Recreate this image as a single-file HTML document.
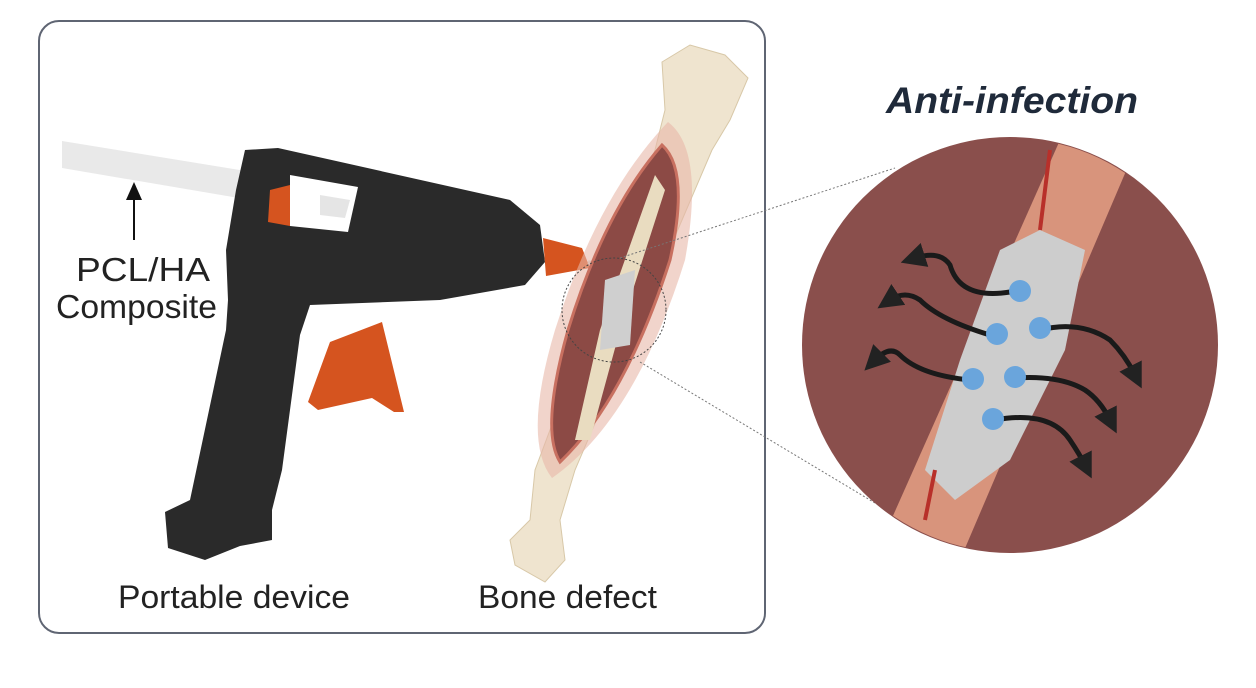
<!DOCTYPE html>
<html><head><meta charset="utf-8"><style>
html,body{margin:0;padding:0;background:#fff;}
svg{display:block;}
text{font-family:"Liberation Sans",sans-serif;}
</style></head><body>
<svg width="1256" height="688" viewBox="0 0 1256 688" xmlns="http://www.w3.org/2000/svg">
<defs>
<marker id="ah" markerWidth="10" markerHeight="10" refX="5" refY="5" orient="auto"><path d="M0,1 L9,5 L0,9 Z" fill="#111"/></marker>
<marker id="ab" markerWidth="5" markerHeight="5" refX="2" refY="2.5" orient="auto"><path d="M0,0 L5,2.5 L0,5 Z" fill="#222"/></marker>
<clipPath id="cc"><circle cx="1010" cy="345" r="207"/></clipPath>
</defs>
<rect x="39" y="21" width="726" height="612" rx="20" fill="#fff" stroke="#5f6573" stroke-width="2"/>
<polygon points="62,141 350,188 345,216 62,168" fill="#e9e9e9"/>
<polygon points="245,150 278,148 510,200 540,225 545,262 525,285 440,300 310,305 300,335 282,470 272,510 272,540 240,546 205,560 168,548 165,512 190,500 226,330 228,300 226,250 236,190" fill="#2a2a2a"/>
<polygon points="290,175 358,187 348,232 290,226" fill="#fff"/>
<polygon points="270,190 290,185 290,226 268,222" fill="#d5541f"/>
<polygon points="320,195 350,200 345,218 320,215" fill="#e5e5e5"/>
<polygon points="330,342 382,322 404,412 394,412 372,398 318,410 308,402" fill="#d5541f"/>
<polygon points="543,238 582,248 590,268 546,276" fill="#d5541f"/>
<line x1="588" y1="262" x2="615" y2="270" stroke="#ccc" stroke-width="4"/>
<line x1="134" y1="240" x2="134" y2="190" stroke="#111" stroke-width="2" marker-end="url(#ah)"/>
<text x="76" y="281" font-size="33" fill="#222" textLength="134" lengthAdjust="spacingAndGlyphs">PCL/HA</text>
<text x="56" y="318" font-size="33" fill="#222" textLength="161" lengthAdjust="spacingAndGlyphs">Composite</text>
<text x="118" y="608" font-size="32" fill="#222" textLength="232" lengthAdjust="spacingAndGlyphs">Portable device</text>
<text x="478" y="608" font-size="32" fill="#222" textLength="179" lengthAdjust="spacingAndGlyphs">Bone defect</text>
<path d="M662,62 L690,45 L725,55 L748,78 L730,120 L712,150 L575,470 L560,520 L565,560 L545,582 L515,565 L510,540 L530,520 L535,470 L655,150 L665,110 Z" fill="#efe4cf" stroke="#d8c8a8"/>
<path d="M668,122 Q705,150 685,260 Q635,420 552,478 Q522,440 555,330 Q598,195 668,122 Z" fill="#e8b8a8" opacity="0.6"/>
<path d="M662,145 Q690,170 670,260 Q625,400 560,462 Q540,430 568,330 Q605,210 662,145 Z" fill="#8c4a45" stroke="#c87060" stroke-width="3"/>
<path d="M655,175 L600,330 L575,440 L590,440 L620,330 L665,190 Z" fill="#e9dcc0"/>
<polygon points="605,280 635,270 630,345 600,350" fill="#cfcfcf"/>
<circle cx="614" cy="310" r="52" fill="none" stroke="#444" stroke-dasharray="2,2"/>
<line x1="620" y1="258" x2="895" y2="168" stroke="#777" stroke-dasharray="2,2"/>
<line x1="640" y1="362" x2="890" y2="512" stroke="#777" stroke-dasharray="2,2"/>
<circle cx="1010" cy="345" r="208" fill="#8a4f4c"/>
<g clip-path="url(#cc)">
<polygon points="1060,140 1135,150 960,560 880,545" fill="#d8947c"/>
<polygon points="1040,230 1085,250 1065,350 1010,460 955,500 925,470 960,360 1000,250" fill="#cdcdcd"/>
<path d="M1050,150 L1040,230 M935,470 L925,520" stroke="#b8302a" stroke-width="4"/>
</g>
<g fill="none" stroke="#1a1a1a" stroke-width="5" marker-end="url(#ab)">
<path d="M1010,292 Q960,300 950,265 Q940,250 915,258"/>
<path d="M990,335 Q940,320 920,300 Q905,290 890,300"/>
<path d="M970,380 Q920,375 900,355 Q890,345 875,360"/>
<path d="M1040,330 Q1080,320 1110,340 Q1125,355 1135,375"/>
<path d="M1015,378 Q1060,375 1085,390 Q1100,400 1110,420"/>
<path d="M995,420 Q1050,410 1070,440 Q1080,455 1085,465"/>
</g>
<g fill="#6aa5dc">
<circle cx="1020" cy="291" r="11"/><circle cx="997" cy="334" r="11"/><circle cx="1040" cy="328" r="11"/>
<circle cx="973" cy="379" r="11"/><circle cx="1015" cy="377" r="11"/><circle cx="993" cy="419" r="11"/>
</g>
<text x="886" y="113" font-size="37" font-weight="bold" font-style="italic" fill="#1f2a3a" textLength="252" lengthAdjust="spacingAndGlyphs">Anti-infection</text>
</svg>
</body></html>
